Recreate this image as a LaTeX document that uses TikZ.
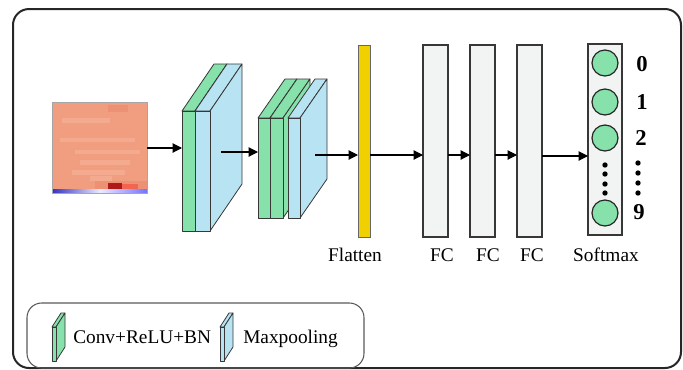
\documentclass[tikz,border=0pt]{standalone}
\usepackage{fontspec}
\setmainfont{Liberation Serif}
\usetikzlibrary{arrows.meta}
\definecolor{cgreen}{RGB}{134,226,170}
\definecolor{cblue}{RGB}{184,227,242}
\definecolor{csalmon}{RGB}{241,158,128}
\definecolor{clight}{RGB}{243,170,142}
\definecolor{cdark}{RGB}{236,145,115}
\definecolor{cyell}{RGB}{240,208,0}
\definecolor{cfc}{RGB}{242,244,244}
\definecolor{cedge}{RGB}{55,55,55}
\tikzset{
  slabedge/.style={draw=cedge, line width=0.6pt, line join=round},
  arr/.style={line width=0.8pt, -{Triangle[length=7pt,width=7pt]}},
  fcbox/.style={draw=cedge, fill=cfc, line width=1.1pt, inner sep=0, outer sep=0, minimum width=18.75pt, minimum height=144pt},
  neuron/.style={circle, draw=black!85, fill=cgreen, line width=0.9pt, minimum size=19.5pt, inner sep=0},
  lab/.style={font=\fontsize{14.5}{17}\selectfont, anchor=base, inner sep=0},
  digit/.style={font=\fontsize{17}{20}\selectfont\bfseries, inner sep=0},
  dot/.style={circle, fill=black, inner sep=0, minimum size=4pt},
}
\newcommand{\slab}[8]{%
  \filldraw[slabedge, fill=#8] (#2,#3) -- ++(#6,-#7) -- ++(#4,0) -- ++(-#6,#7) -- cycle;
  \filldraw[slabedge, fill=#8] (#2+#4,#3) -- ++(#6,-#7) -- ++(0,#5) -- ++(-#6,#7) -- cycle;
  \node[slabedge, fill=#8, anchor=north west, minimum width=#4*0.75pt, minimum height=#5*0.75pt, inner sep=0, outer sep=0] (#1) at (#2,#3) {};
}
\begin{document}
\begin{tikzpicture}[x=0.75pt,y=-0.75pt]
\useasboundingbox (0,0) rectangle (683,369);
% outer frame
\draw[line width=1.5pt, draw=black!85, rounded corners=12pt] (13,9) rectangle (681,368);
% legend box
\draw[line width=0.8pt, draw=black!65, rounded corners=11pt] (27,303) rectangle (364,368);

% input heat map
\fill[csalmon] (52,102) rectangle (147,189);
\fill[clight] (62,118) rectangle (110,123);
\fill[clight] (60,138) rectangle (135,142);
\fill[clight] (75,150) rectangle (140,154);
\fill[clight] (80,160) rectangle (130,165);
\fill[clight] (72,170) rectangle (125,175);
\fill[clight] (90,176) rectangle (112,181);
\fill[cdark] (108,105) rectangle (128,112);
\fill[cdark] (95,181) rectangle (147,189);
\fill[red!65!black!90!white] (108,183) rectangle (122,189);
\fill[cdark!70!red] (122,184) rectangle (138,189);
\shade[left color=blue!70!black!80!white, right color=blue!8!white] (52,189) rectangle (100,193);
\shade[left color=blue!8!white, right color=blue!55!white] (100,189) rectangle (147,193);
\node[draw=black!35, line width=0.5pt, inner sep=0, outer sep=0, minimum width=71.25pt, minimum height=68.25pt, anchor=north west] (img) at (52,102) {};

% block 1
\slab{b1g}{182}{111}{13}{120}{32}{47}{cgreen}
\slab{b1b}{195}{111}{15}{120}{32}{47}{cblue}
% block 2
\slab{b2g}{258}{118}{12}{100}{27}{39}{cgreen}
\slab{b2h}{270}{118}{13}{100}{27}{39}{cgreen}
\slab{b2b}{288}{118}{12}{100}{27}{39}{cblue}

% flatten and FC
\node[draw=black!60, fill=cyell, line width=0.6pt, inner sep=0, outer sep=0, minimum width=9pt, minimum height=144pt] (flat) at (364,141) {};
\node[fcbox] (fc1) at (435.5,141) {};
\node[fcbox] (fc2) at (482.5,141) {};
\node[fcbox] (fc3) at (529.5,141) {};

% softmax
\node[draw=cedge, fill=cfc, line width=1.1pt, inner sep=0, outer sep=0, minimum width=25.5pt, minimum height=143.25pt] (soft) at (605,139.5) {};
\node[neuron] (n0) at (605,63) {};
\node[neuron] (n1) at (605,102) {};
\node[neuron] (n2) at (605,138) {};
\node[neuron] (n9) at (605,213) {};
\foreach \yy [count=\i] in {165,174,184,193} \node[dot] (d\i) at (605,\yy) {};
\node[digit] (l0) at (642,64) {0};
\node[digit] (l1) at (642,102) {1};
\node[digit] (l2) at (641,138) {2};
\node[digit] (l9) at (639,212) {9};
\foreach \yy [count=\i] in {163,173,183,193} \node[dot] (e\i) at (638,\yy) {};

% labels
\node[lab] (tflat) at (355,261) {Flatten};
\node[lab] (tfc1) at (442,261) {FC};
\node[lab] (tfc2) at (488,261) {FC};
\node[lab] (tfc3) at (532,261) {FC};
\node[lab] (tsoft) at (606,261) {Softmax};

% connectors
\coordinate (a1) at (221,152);
\coordinate (a2) at (315,155);
\coordinate (ay) at (0,155);
\draw[arr] (img.east |- 0,148) -- (b1g.west |- 0,148);
\draw[arr] (a1) -- (b2g.west |- a1);
\draw[arr] (a2) -- (flat.west |- a2);
\draw[arr] (flat.east |- ay) -- (fc1.west |- ay);
\draw[arr] (fc1.east |- ay) -- (fc2.west |- ay);
\draw[arr] (fc2.east |- ay) -- (fc3.west |- ay);
\draw[arr] (fc3.east |- 0,156) -- (soft.west |- 0,156);

% legend
\slab{lg}{52}{327}{4}{34}{9}{14}{cgreen}
\node[lab, anchor=base west] (tconv) at (73,343) {Conv+ReLU+BN};
\slab{lb}{220}{327}{4}{34}{9}{14}{cblue}
\node[lab, anchor=base west] (tmax) at (243,343) {Maxpooling};
\end{tikzpicture}
\end{document}
